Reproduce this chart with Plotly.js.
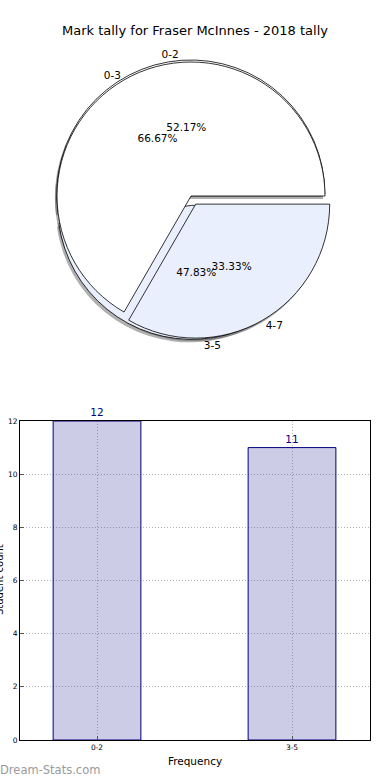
<!DOCTYPE html>
<html>
<head>
<meta charset="utf-8">
<script src="https://cdn.plot.ly/plotly-3.0.1.min.js"></script>
<style>html,body{margin:0;padding:0;background:#fff;}#chart{width:390px;height:780px;}</style>
</head>
<body>
<div id="chart"></div>
<script>
// Pie A (drawn on top)
const pieALabels = ['0-3', '4-7'];
const pieAValues = [2, 1];
// Pie B (drawn underneath)
const pieBLabels = ['0-2', '3-5'];
const pieBValues = [12, 11];
// Bar chart
const barCategories = ['0-2', '3-5'];
const barValues = [12, 11];
const yTicks = [0, 2, 4, 6, 8, 10, 12];

const W = 390, H = 780;
const font = 'DejaVu Sans, Liberation Sans, sans-serif';
const maxPull = 0.07;
const cx = 191, cy = 196, R = 134;
const half = R * (1 + maxPull);
function dom(dx, dy) {
  return {
    x: [(cx - half + dx) / W, (cx + half + dx) / W],
    y: [(H - cy - half - dy) / H, (H - cy + half - dy) / H]
  };
}
const rev = a => a.slice().reverse();
const blue = '#e9effc';
const shadowCol = 'rgba(80,80,80,0.45)';
const clear = 'rgba(0,0,0,0)';
const common = {type: 'pie', sort: false, direction: 'clockwise', rotation: 90,
  showlegend: false, hoverinfo: 'skip'};
const pullB = rev([0.015, maxPull]);
const pullA = rev([0, maxPull]);
const txtFont = {family: font, size: 10.5, color: '#000'};

function pie(labels, values, pull, extra) {
  return Object.assign({}, common, {labels: rev(labels), values: rev(values), pull: pull}, extra);
}

const traces = [
  // shadows
  pie(pieBLabels, pieBValues, pullB, {domain: dom(-2, 3),
    marker: {colors: [shadowCol, shadowCol], line: {width: 0}}, textinfo: 'none'}),
  pie(pieALabels, pieAValues, pullA, {domain: dom(-2, 3),
    marker: {colors: [shadowCol, shadowCol], line: {width: 0}}, textinfo: 'none'}),
  // pie B (wedges)
  pie(pieBLabels, pieBValues, pullB, {domain: dom(0, 0),
    marker: {colors: [blue, '#ffffff'], line: {color: '#000', width: 0.8}}, textinfo: 'none'}),
  // pie A (wedges)
  pie(pieALabels, pieAValues, pullA, {domain: dom(0, 0),
    marker: {colors: [blue, '#ffffff'], line: {color: '#000', width: 0.8}}, textinfo: 'none'}),
  // percentages (overlay, transparent)
  pie(pieBLabels, pieBValues, pullB, {domain: dom(0, 0),
    marker: {colors: [clear, clear], line: {width: 0}},
    texttemplate: '%{percent:.2%}', textposition: 'inside', insidetextorientation: 'horizontal',
    textfont: txtFont}),
  pie(pieALabels, pieAValues, pullA, {domain: dom(0, 0),
    marker: {colors: [clear, clear], line: {width: 0}},
    texttemplate: '%{percent:.2%}', textposition: 'inside', insidetextorientation: 'horizontal',
    textfont: txtFont}),
  // outside labels
  pie(pieBLabels, pieBValues, pullB, {domain: dom(0, 0),
    marker: {colors: [clear, clear], line: {width: 0}},
    textinfo: 'label', textposition: 'outside', textfont: txtFont}),
  pie(pieALabels, pieAValues, pullA, {domain: dom(0, 0),
    marker: {colors: [clear, clear], line: {width: 0}},
    textinfo: 'label', textposition: 'outside', textfont: txtFont}),
  // bars
  {type: 'bar', x: barCategories, y: barValues, width: 0.45, xaxis: 'x', yaxis: 'y',
    marker: {color: 'rgba(0,0,128,0.2)', line: {color: '#000080', width: 1}},
    text: barValues.map(String), textposition: 'outside', cliponaxis: false,
    textfont: {family: font, size: 10.5, color: '#000080'}, hoverinfo: 'skip', showlegend: false}
];

const gridDash = '1px,2px';
const layout = {
  width: W, height: H,
  margin: {l: 0, r: 0, t: 0, b: 0},
  paper_bgcolor: '#fff', plot_bgcolor: '#fff',
  font: {family: font, color: '#000'},
  title: {text: 'Mark tally for Fraser McInnes - 2018 tally', font: {family: font, size: 13, color: '#000'},
    x: 0.5, xanchor: 'center', y: 1 - 30 / H, yanchor: 'middle'},
  xaxis: {domain: [20 / W, 370 / W], range: [-0.395, 1.4], type: 'category',
    showline: true, linecolor: '#000', linewidth: 1, mirror: true,
    ticks: 'inside', ticklen: 4, tickcolor: '#555',
    showgrid: true, gridcolor: '#b4b4b4', griddash: gridDash, gridwidth: 1,
    tickfont: {family: font, size: 7.5, color: '#000'},
    title: {text: 'Frequency', font: {family: font, size: 10.5, color: '#000'}, standoff: 6},
    zeroline: false, fixedrange: true},
  yaxis: {domain: [1 - 740 / H, 1 - 421 / H], range: [0, 12], tickvals: yTicks,
    showline: true, linecolor: '#000', linewidth: 1, mirror: true,
    ticks: 'inside', ticklen: 4, tickcolor: '#555',
    showgrid: true, gridcolor: '#b4b4b4', griddash: gridDash, gridwidth: 1,
    tickfont: {family: font, size: 7.5, color: '#000'},
    zeroline: false, fixedrange: true},
  annotations: [
    {text: 'Student count', xref: 'paper', yref: 'paper', x: -1 / W, y: 1 - 580 / H,
      xanchor: 'center', yanchor: 'middle', textangle: -90, showarrow: false,
      font: {family: font, size: 10, color: '#000'}},
    {text: 'Dream-Stats.com', xref: 'paper', yref: 'paper', x: -2 / W, y: 1 - 770 / H,
      xanchor: 'left', yanchor: 'middle', showarrow: false,
      font: {family: font, size: 11.5, color: '#9a9a9a'}}
  ]
};

Plotly.newPlot('chart', traces, layout, {staticPlot: true, displayModeBar: false});
</script>
</body>
</html>
